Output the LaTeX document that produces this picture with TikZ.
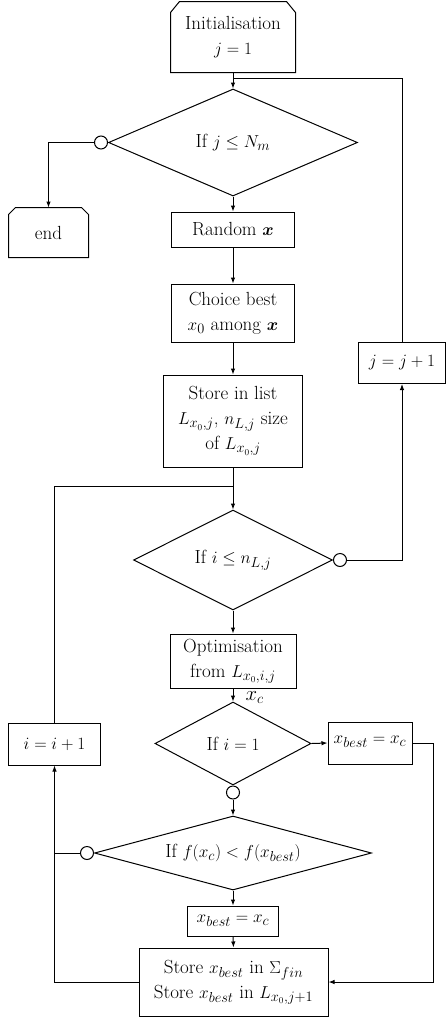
\documentclass[tikz,border=0pt]{standalone}
\usepackage{bm}
\usetikzlibrary{shapes.geometric,arrows.meta}
\begin{document}
\begin{tikzpicture}[x=1pt,y=-1pt,
  line width=1pt,
  every node/.style={font=\fontsize{19}{25}\selectfont},
  box/.style={draw, rectangle, inner sep=0pt, align=center},
  plain/.style={rectangle, inner sep=0pt, align=center},
  dia/.style={draw, diamond, inner sep=0pt, align=center},
  circ/.style={draw, circle, inner sep=0pt, minimum size=13pt, fill=white},
  arr/.style={-{Latex[length=6pt,width=4.5pt]}}]
\useasboundingbox (0,0) rectangle (446,1018);

% start
\node[plain, minimum width=124pt, minimum height=70pt] (init) at (233,37) {Initialisation\\$j=1$};
\draw (init.south west) -- ([yshift=-11pt]init.north west) -- ([xshift=9pt]init.north west)
  -- ([xshift=-9pt]init.north east) -- ([yshift=-11pt]init.north east) -- (init.south east) -- cycle;

\node[dia, minimum width=249pt, minimum height=107pt, aspect=2.33] (d1) at (233,142.5) {If $j\le N_m$};
\node[circ, anchor=east] (c1) at (d1.west) {};

\node[plain, minimum width=79pt, minimum height=49pt] (endb) at (48.5,232.5) {end};
\draw (endb.south west) -- ([yshift=-7pt]endb.north west) -- ([xshift=7pt]endb.north west)
  -- ([xshift=-7pt]endb.north east) -- ([yshift=-7pt]endb.north east) -- (endb.south east) -- cycle;

\node[box, minimum width=123pt, minimum height=35pt] (rand) at (233,229.5) {Random $\bm{x}$};
\node[box, minimum width=123pt, minimum height=58pt] (choice) at (233,313) {Choice best\\$x_0$ among $\bm{x}$};
\node[box, minimum width=139pt, minimum height=92pt] (slist) at (233,421) {Store in list\\$L_{x_0,j}$, $n_{L,j}$ size\\of $L_{x_0,j}$};

\node[box, minimum width=87pt, minimum height=41pt] (jinc) at (402,363) {$j=j+1$};
\coordinate (jm) at (233,78);

\node[dia, minimum width=199pt, minimum height=100pt, aspect=2] (d2) at (233,560) {If $i\le n_{L,j}$};
\node[circ, anchor=west] (c2) at (d2.east) {};
\coordinate (iloop) at (233,486);

\node[box, minimum width=92pt, minimum height=42pt] (inc) at (54.5,744) {$i=i+1$};

\node[box, minimum width=126pt, minimum height=54pt] (opt) at (233,661) {Optimisation\\from $L_{x_0,i,j}$};

\node[dia, minimum width=156pt, minimum height=83pt, aspect=1.9] (d3) at (233,743.5) {If $i=1$};
\node[box, minimum width=84pt, minimum height=42pt] (xb1) at (370,743) {\raisebox{6pt}{$x_{best}=x_c$}};
\node[circ, anchor=north] (c3) at (d3.south) {};

\node[dia, minimum width=277pt, minimum height=74pt, aspect=3.74] (d4) at (233,853) {If $f(x_c)<f(x_{best})$};
\node[circ, anchor=east] (c4) at (d4.west) {};

\node[box, minimum width=91pt, minimum height=30pt] (xb2) at (233,921) {$x_{best}=x_c$};
\node[box, minimum width=189pt, minimum height=68pt] (store2) at (233.5,982) {Store $x_{best}$ in $\Sigma_{fin}$\\Store $x_{best}$ in $L_{x_0,j+1}$};

% connectors
\draw[arr] (init.south) -- (d1.north);
\draw[arr] (c1.west) -| (endb.north);
\draw[arr] (d1.south) -- (rand.north);
\draw[arr] (rand.south) -- (choice.north);
\draw[arr] (choice.south) -- (slist.north);
\draw (jinc.north) |- (jm);
\draw[arr] (slist.south) -- (d2.north);
\draw[arr] (c2.east) -| (jinc.south);
\draw (inc.north) |- (iloop);
\draw[arr] (d2.south) -- (opt.north);
\draw[arr] (opt.south) -- node[anchor=west, pos=0.7, inner sep=0pt, xshift=12pt, font=\fontsize{20}{22}\selectfont] {$x_c$} (d3.north);
\draw[arr] (d3.east) -- (xb1.west);
\draw[arr] (c3.south) -- (d4.north);
\draw (c4.west) -- (c4.west -| inc.south);
\draw[arr] (d4.south) -- (xb2.north);
\draw[arr] (xb2.south) -- (store2.north);
\draw[arr] (store2.west) -| (inc.south);
\draw[arr] (xb1.east) -- ++(21,0) |- (store2.east);
\end{tikzpicture}
\end{document}
